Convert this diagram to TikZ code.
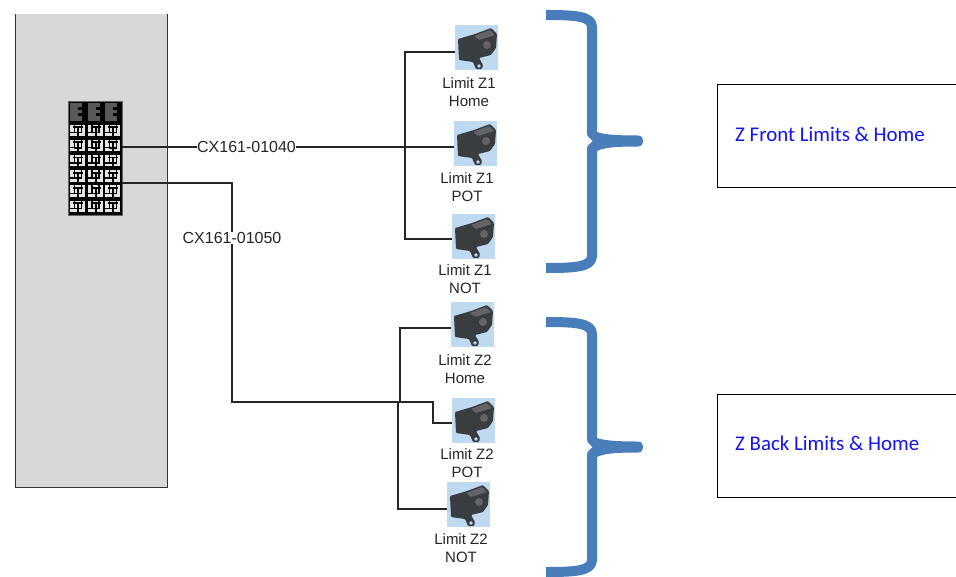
\documentclass[tikz,border=0pt]{standalone}
\usepackage{fontspec}
\setmainfont{Liberation Sans}
\newfontfamily\boxfont{Carlito}
\definecolor{panelgray}{RGB}{216,216,216}
\definecolor{sensorbg}{RGB}{190,217,240}
\definecolor{bracecol}{RGB}{74,126,187}
\definecolor{sensordark}{RGB}{58,61,64}
\definecolor{sensormid}{RGB}{100,100,104}
\definecolor{textblue}{RGB}{20,20,240}
\tikzset{
  wire/.style={draw=black!85,line width=1.5pt},
  brace/.style={draw=bracecol,line width=10pt,line join=round},
  sensorbox/.style={fill=sensorbg,draw=none,inner sep=0pt,anchor=north west},
  lab/.style={font=\fontsize{15}{18}\selectfont,align=center,text=black!85,inner sep=0pt,anchor=north},
  cable/.style={font=\fontsize{16}{18}\selectfont,fill=white,text=black!85,inner xsep=0.5pt,inner ysep=0.5pt},
  sidebox/.style={draw=black,line width=1pt,fill=white,anchor=north west,minimum width=260pt,minimum height=103pt,inner sep=0pt},
  sidetext/.style={font=\boxfont\fontsize{20.9}{24}\selectfont,text=textblue,anchor=west,inner sep=0pt},
}
\newcommand{\sensoricon}[3]{%
  \node[sensorbox,minimum width=43pt,minimum height=45pt] (#1) at (#2,#3) {};
  \begin{scope}[shift={(#2,#3)}]
    \fill[sensordark,rounded corners=1pt] (3,14)--(20,9)--(36,3)--(42,9)--(41,23)--(36,30)--(24,33)--(28,40)--(27,44)--(21,44)--(18,37)--(4,35)--cycle;
    \fill[sensormid,rounded corners=1pt] (19,11)--(35,5)--(40,10)--(24,15)--cycle;
    \fill[sensormid] (32,20) circle (4pt);
    \fill[sensorbg] (24,41) circle (1.8pt);
  \end{scope}}
\begin{document}
\begin{tikzpicture}[x=1pt,y=-1pt]
\useasboundingbox (0,0) rectangle (956,576);
\begin{scope}
\clip (0,14) rectangle (956,576);
\node[draw=black!80,line width=1.2pt,fill=panelgray,anchor=north west,inner sep=0pt,minimum width=151.5pt,minimum height=483pt] (panel) at (15,4) {};
\end{scope}
% terminal block
\node[fill=black,draw=black!60,line width=.5pt,anchor=north west,inner sep=0pt,minimum width=54pt,minimum height=114pt] (term) at (68,101) {};
\foreach \c in {0,1,2}{
  \fill[black!65] ({70+\c*17.5},103) rectangle ({82+\c*17.5},121);
  \fill[black] ({78+\c*17.5},107) rectangle ({82+\c*17.5},110);
  \fill[black] ({78+\c*17.5},113) rectangle ({82+\c*17.5},116);
  \foreach \r in {0,1,2,3,4,5}{
    \fill[white!90!black] ({70+\c*17.5},{124.5+\r*15.2}) rectangle ({85+\c*17.5},{136+\r*15.2});
    \draw[black,line width=1.8pt] ({73+\c*17.5},{127+\r*15.2}) -- ({83+\c*17.5},{127+\r*15.2});
    \draw[black,line width=1.6pt] ({74.5+\c*17.5},{124+\r*15.2}) -- ({74.5+\c*17.5},{132.5+\r*15.2}) -- ({81.5+\c*17.5},{132.5+\r*15.2}) -- ({81.5+\c*17.5},{124+\r*15.2});
    \draw[black,line width=2pt] ({78+\c*17.5},{127+\r*15.2}) -- ({78+\c*17.5},{137+\r*15.2});
    \draw[black,line width=1.4pt] ({70+\c*17.5},{132.5+\r*15.2}) -- ({74+\c*17.5},{132.5+\r*15.2});
  }
}
% sensors
\sensoricon{za}{455}{25}
\sensoricon{zb}{454}{121}
\sensoricon{zc}{452}{214}
\sensoricon{zd}{451}{302}
\sensoricon{ze}{452}{398}
\sensoricon{zf}{447}{482}
\node[lab] (la) at (469,77) {Limit Z1\\Home};
\node[lab] (lb) at (467,172.5) {Limit Z1\\POT};
\node[lab] (lc) at (465,264.5) {Limit Z1\\NOT};
\node[lab] (ld) at (465,354.5) {Limit Z2\\Home};
\node[lab] (le) at (467,448) {Limit Z2\\POT};
\node[lab] (lf) at (461,533.5) {Limit Z2\\NOT};
% wiring
\coordinate (t1) at (122,147);
\coordinate (t2) at (122,183);
\coordinate (a1) at (455,52);
\coordinate (a2) at (454,147);
\coordinate (a3) at (452,239);
\coordinate (tr1) at (405,147);
\coordinate (b0) at (400,402);
\coordinate (b0a) at (398,402);
\coordinate (b1) at (451,328);
\coordinate (b2) at (452,423);
\coordinate (b3) at (447,509);
\draw[wire] (t1) -- (a2);
\draw[wire] (a1) -| (tr1) |- (a3);
\draw[wire] (t2) -| (232,402) -- (433,402) |- (b2);
\draw[wire] (b1) -| (b0);
\draw[wire] (b3) -| (b0a);
\node[cable] (c1) at (246.5,147) {CX161-01040};
\node[cable] (c2) at (232,238) {CX161-01050};
% braces
\foreach \t/\m/\b in {15/141/268,322/447/572}{
  \draw[brace] (546,\t) .. controls (575,\t) and (592,\t+1) .. (592,\t+12) -- (592,\m-7);
  \draw[brace] (546,\b) .. controls (575,\b) and (592,\b-1) .. (592,\b-12) -- (592,\m+7);
  \fill[bracecol] (587,\m-9) -- (587.5,\m-5) -- (592.5,\m) -- (587.5,\m+5) -- (587,\m+9) -- (597,\m+10)
    .. controls (603,\m+7) and (612,\m+5.5) .. (638,\m+5.5)
    .. controls (645,\m+5.5) and (645,\m-5.5) .. (638,\m-5.5)
    .. controls (612,\m-5.5) and (603,\m-7) .. (597,\m-9) -- cycle;
}
% side boxes
\begin{scope}
\clip (0,0) rectangle (956,576);
\node[sidebox] (fb) at (717,84) {};
\node[sidebox] (bb) at (717,394) {};
\end{scope}
\node[sidetext] (ft) at (735,134) {Z Front Limits \& Home};
\node[sidetext] (bt) at (735,443) {Z Back Limits \& Home};
\end{tikzpicture}
\end{document}
